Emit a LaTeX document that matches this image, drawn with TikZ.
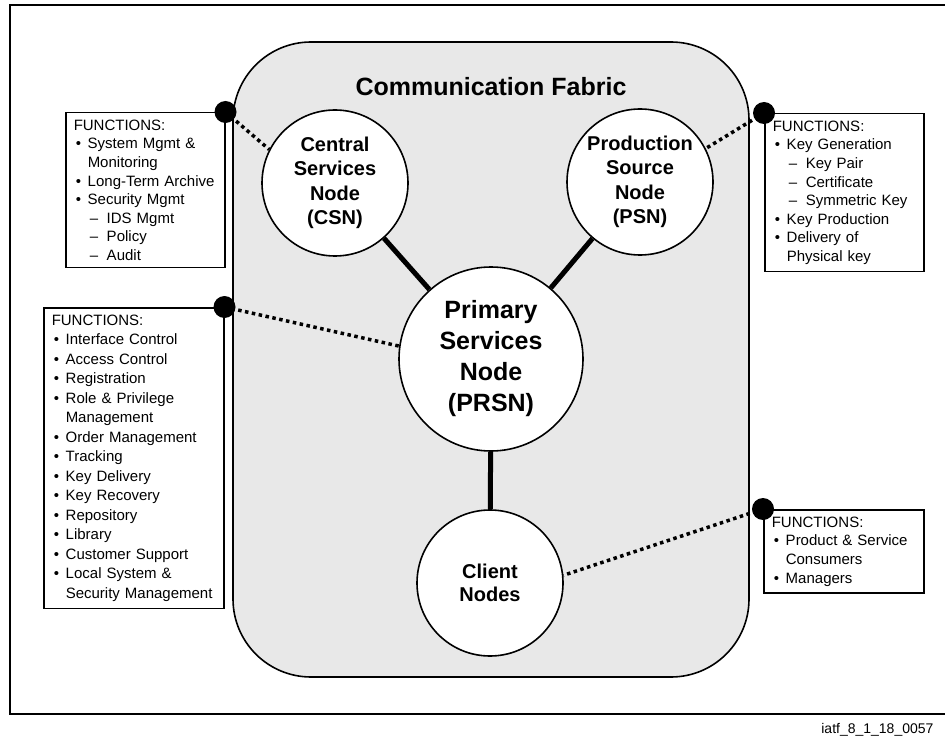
\documentclass[tikz,border=0pt]{standalone}
\usepackage{fontspec}
\setmainfont{Liberation Sans}
\usetikzlibrary{positioning}
\definecolor{Fabric}{HTML}{E8E8E8}
\definecolor{Ink}{HTML}{000000}
\newcommand{\fitem}[1]{\hspace*{2pt}\makebox[12pt][l]{•}#1}
\newcommand{\fsub}[1]{\hspace*{16pt}\makebox[17pt][l]{–}#1}
\newcommand{\fcont}[1]{\hspace*{14pt}#1}
\tikzset{
  fabric/.style={draw=Ink, fill=Fabric, line width=1.6pt, rounded corners=78pt},
  svcnode/.style={draw=Ink, fill=white, circle, line width=1.6pt, inner sep=0pt, align=center, minimum size=#1},
  svcnode/.default=146pt,
  funcbox/.style={draw=Ink, fill=white, line width=1.5pt, anchor=north west, align=left, inner xsep=8pt, inner ysep=7pt, font=\fontsize{15}{18.6}\selectfont},
  jdot/.style={circle, fill=Ink, inner sep=0pt, minimum size=22pt},
  trunk/.style={draw=Ink, line width=5pt},
  dotlink/.style={draw=Ink, line width=3.5pt, dash pattern=on 3.5pt off 3.5pt}
}
\begin{document}
\begin{tikzpicture}[x=1pt, y=-1pt]
  \useasboundingbox (0,0) rectangle (945,738);
  \draw[line width=1.5pt, draw=Ink] (950,5) -- (10,5) -- (10,714) -- (950,714);

  \draw[fabric] (233,42) rectangle (749,677);
  \node[font=\fontsize{25}{30}\selectfont\bfseries] (title) at (491,87) {Communication Fabric};

  \node[svcnode, font=\fontsize{20}{24.5}\selectfont\bfseries] (csn) at (335,183) {Central\\Services\\Node\\(CSN)};
  \node[svcnode, font=\fontsize{20}{24.5}\selectfont\bfseries] (psn) at (640,182) {Production\\Source\\Node\\(PSN)};
  \node[svcnode=184pt, font=\fontsize{25}{31}\selectfont\bfseries] (prsn) at (491,359) {Primary\\Services\\Node\\(PRSN)};
  \node[svcnode, font=\fontsize{20}{23}\selectfont\bfseries] (client) at (490,583) {Client\\Nodes};
  \draw[trunk] (csn) -- (prsn);
  \draw[trunk] (psn) -- (prsn);
  \draw[trunk] (prsn) -- (client);

  \node[funcbox, text width=143pt] (csnbox) at (65,112) {FUNCTIONS:\\
    \fitem{System Mgmt \&}\\ \fcont{Monitoring}\\ \fitem{Long-Term Archive}\\ \fitem{Security Mgmt}\\
    \fsub{IDS Mgmt}\\ \fsub{Policy}\\ \fsub{Audit}};
  \node[funcbox, text width=164pt, font=\fontsize{15}{19.5}\selectfont] (prsnbox) at (43,307) {FUNCTIONS:\\
    \fitem{Interface Control}\\ \fitem{Access Control}\\ \fitem{Registration}\\ \fitem{Role \& Privilege}\\
    \fcont{Management}\\ \fitem{Order Management}\\ \fitem{Tracking}\\ \fitem{Key Delivery}\\
    \fitem{Key Recovery}\\ \fitem{Repository}\\ \fitem{Library}\\ \fitem{Customer Support}\\
    \fitem{Local System \&}\\ \fcont{Security Management}};
  \node[funcbox, text width=143pt] (psnbox) at (764,113) {FUNCTIONS:\\
    \fitem{Key Generation}\\ \fsub{Key Pair}\\ \fsub{Certificate}\\ \fsub{Symmetric Key}\\
    \fitem{Key Production}\\ \fitem{Delivery of}\\ \fcont{Physical key}};
  \node[funcbox, text width=144pt] (clibox) at (763,509) {FUNCTIONS:\\
    \fitem{Product \& Service}\\ \fcont{Consumers}\\ \fitem{Managers}};

  \draw[dotlink] (csnbox.north east) -- (csn.153);
  \draw[dotlink] (prsnbox.north east) -- (prsn.172);
  \draw[dotlink] (psnbox.north west) -- (psn.27);
  \draw[dotlink] (clibox.north west) -- (client.6);
  \node[jdot] (csndot) at (csnbox.north east) {};
  \node[jdot] (prsndot) at (prsnbox.north east) {};
  \node[jdot] (psndot) at (psnbox.north west) {};
  \node[jdot] (clidot) at (clibox.north west) {};

  \node[anchor=east, font=\fontsize{14}{16}\selectfont] (tag) at (937,730) {iatf\_8\_1\_18\_0057};
\end{tikzpicture}
\end{document}
